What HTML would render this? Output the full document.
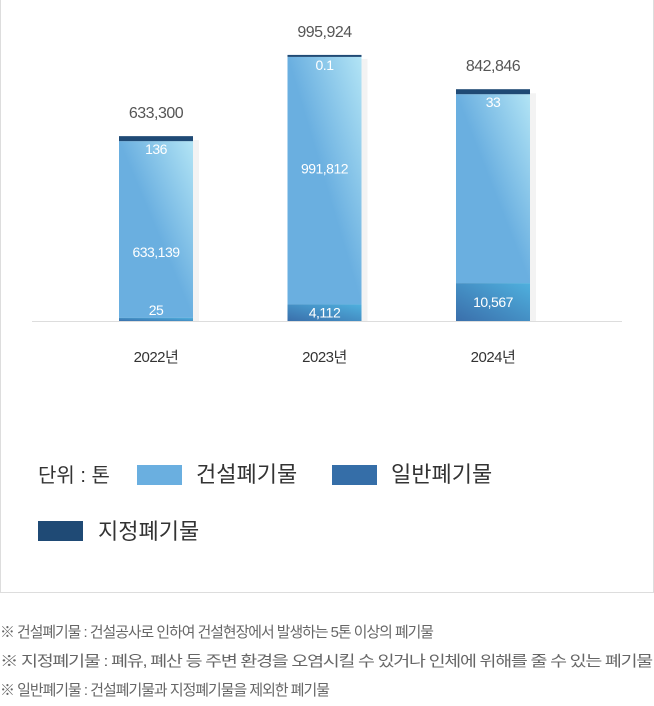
<!DOCTYPE html>
<html><head><meta charset="utf-8">
<style>
body{margin:0;width:654px;height:706px;background:#fff;font-family:"Liberation Sans","Noto Sans CJK KR",sans-serif;position:relative;overflow:hidden}
.box{position:absolute;left:0;top:-1px;width:652px;height:592px;border:1px solid #ddd}
.lg{position:absolute;font-size:22px;color:#333}
.sw{position:absolute;width:45px;height:20px}
.fn{position:absolute;left:0;font-size:15px;color:#666;letter-spacing:-1px;white-space:nowrap;transform-origin:0 0;display:inline-block}
</style></head><body>
<div class="box"></div>
<svg id="chart" width="654" height="400" style="position:absolute;left:0;top:0">
<defs>
<linearGradient id="gl" x1="0" y1="1" x2="1" y2="0"><stop offset="0.5" stop-color="#6aafe0"/><stop offset="1" stop-color="#b2e4f5"/></linearGradient>
<linearGradient id="gg" x1="0" y1="1" x2="1" y2="0"><stop offset="0" stop-color="#3a6fab"/><stop offset="1" stop-color="#4fb0de"/></linearGradient>
</defs>
</svg>
<div class="lg" style="left:38px;top:459px;font-size:20px">단위 : 톤</div>
<div class="sw" style="left:137px;top:465px;background:#6aafe0"></div>
<div class="lg" style="left:196px;top:457px">건설폐기물</div>
<div class="sw" style="left:332px;top:465px;background:#356ea8"></div>
<div class="lg" style="left:391px;top:457px">일반폐기물</div>
<div class="sw" style="left:38px;top:521px;background:#1f4a75"></div>
<div class="lg" style="left:98px;top:514px">지정폐기물</div>
<div class="fn" style="top:621px" data-w="433">※ 건설폐기물 : 건설공사로 인하여 건설현장에서 발생하는 5톤 이상의 폐기물</div>
<div class="fn" style="top:650px" data-w="652">※ 지정폐기물 : 폐유, 폐산 등 주변 환경을 오염시킬 수 있거나 인체에 위해를 줄 수 있는 폐기물</div>
<div class="fn" style="top:679px" data-w="329">※ 일반폐기물 : 건설폐기물과 지정폐기물을 제외한 폐기물</div>
<script>
const categories=["2022년","2023년","2024년"];
const generalVals=[25,4112,10567];
const constructionVals=[633139,991812,842846-10567-33];
const designatedVals=[136,0.1,33];
const totals=[633300,995924,842846];
const constructionLabels=["633,139","991,812",""];
const totalLabels=["633,300","995,924","842,846"];
const generalLabels=["25","4,112","10,567"];
const designatedLabels=["136","0.1","33"];
const svg=document.getElementById('chart');
const NS="http://www.w3.org/2000/svg";
const base=321,bw=74;
function xc(i){return 156+i*168.5;}
function hTotal(v){return 43+v*0.000224;}
function hGen(v){return 3+v*0.0033;}
function hDes(v){return v>1?5:2;}
function mk(tag,attrs){const e=document.createElementNS(NS,tag);for(const k in attrs)e.setAttribute(k,attrs[k]);svg.appendChild(e);return e;}
const ax=mk('line',{x1:32,x2:622,y1:base+0.5,y2:base+0.5,stroke:'#ddd','stroke-width':1});


categories.forEach((c,i)=>{
  const x=xc(i)-bw/2;
  const ht=hTotal(totals[i]),hg=hGen(generalVals[i]),hd=hDes(designatedVals[i]);
  const top=base-ht;
  const sh=mk('rect',{x:x+6,y:top+4,width:bw,height:ht-4,fill:'#f3f3f3'});
  
  
  const rc=mk('rect',{x:x,y:top+hd,width:bw,height:ht-hd-hg,fill:'url(#gl)'});
  
  
  const rg=mk('rect',{x:x,y:base-hg,width:bw,height:hg,fill:'url(#gg)'});
  
  
  const rd=mk('rect',{x:x,y:top,width:bw,height:hd,fill:'#1f4a75'});
  
  
  const t=(txt,y,fill,size,name)=>{const e=mk('text',{x:xc(i),y:y,'text-anchor':'middle',fill:fill,'font-size':size,'letter-spacing':'-0.5'});e.textContent=txt;};
  t(totalLabels[i],top-18,'#555',16,'total-label');
  t(designatedLabels[i],top+hd+13,'#fff',14,'designated-value');
  if(constructionLabels[i])t(constructionLabels[i],top+(ht-hg)/2+(i==0?30:-6),'#fff',14,'construction-value');
  t(generalLabels[i],base-(hg>10?hg/2-5:5)+(hg>10?0:-1),'#fff',14,'general-value');
  t(c,362,'#333',15,'x-tick-label');
});
document.querySelectorAll('.fn').forEach(el=>{
  const w=el.getBoundingClientRect().width;
  const target=+el.getAttribute('data-w');
  el.style.transform='scaleX('+(target/w)+')';
});
</script>
</body></html>
